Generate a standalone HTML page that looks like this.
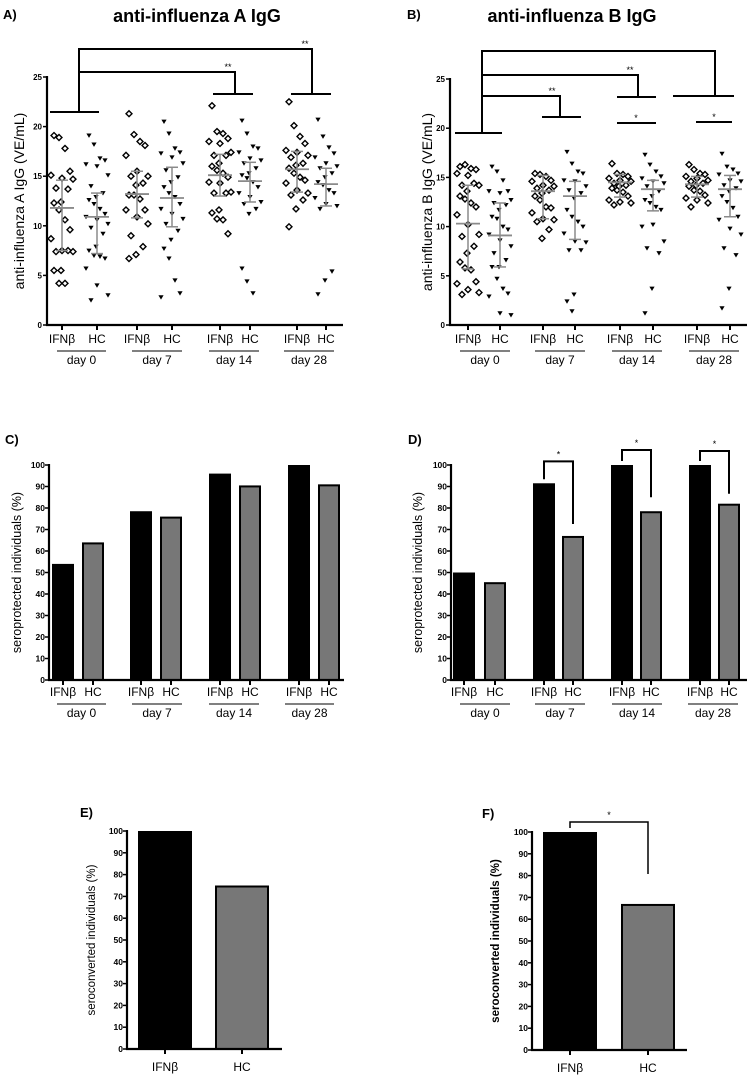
<!DOCTYPE html>
<html><head><meta charset="utf-8"><style>
body{margin:0;background:#fff;}
svg{display:block;font-family:"Liberation Sans",sans-serif;}
</style></head><body>
<svg id="fig" width="751" height="1078" viewBox="0 0 751 1078"></svg>
<script>
// ---------- Data ----------
const scatterGroups = ["IFNβ","HC"];
const days = ["day 0","day 7","day 14","day 28"];
const yTicksScatter = [0,5,10,15,20,25];
const yTicksPct = [0,10,20,30,40,50,60,70,80,90,100];

// Panel A values (VE/mL)
const A_d0_ifn = [19.1,18.9,17.8,15.5,15.1,14.8,14.7,13.8,13.7,12.4,12.3,11.6,10.6,9.6,8.7,7.5,7.4,7.4,7.5,5.5,5.5,4.2,4.2];
const A_d0_hc  = [19.1,18.2,16.8,16.6,16.2,16.0,15.1,14.0,13.3,12.9,12.6,12.2,11.7,11.2,10.9,10.6,10.2,9.8,9.2,7.9,7.5,7.0,6.9,6.7,5.7,4.0,3.0,2.5];
const A_d7_ifn = [21.3,19.2,18.5,18.1,17.1,15.5,15.0,15.0,14.3,14.1,13.1,13.1,12.7,11.6,11.6,10.9,10.2,9.0,7.9,7.1,6.7];
const A_d7_hc  = [20.5,19.3,17.8,17.4,17.3,16.9,16.3,15.6,14.9,14.4,13.9,13.3,12.9,12.2,11.7,11.2,10.7,10.2,9.5,8.6,7.7,6.7,4.5,3.2,2.8];
const A_d14_ifn= [22.1,19.5,19.3,18.8,18.5,18.3,17.4,17.1,17.1,16.3,16.0,15.6,15.3,14.9,14.4,14.3,13.4,13.3,13.3,11.6,11.3,10.7,10.6,9.2];
const A_d14_hc = [20.6,19.3,18.0,17.8,17.4,16.8,16.6,16.3,15.8,15.3,15.1,14.8,14.4,13.9,13.3,12.9,12.4,12.2,11.7,11.2,5.7,4.4,3.2];
const A_d28_ifn= [22.5,20.1,19.0,18.3,17.6,17.4,17.1,16.9,16.3,16.1,15.8,15.3,14.9,14.6,14.3,13.6,13.3,13.1,12.6,11.7,9.9];
const A_d28_hc = [20.7,19.0,17.9,17.3,16.9,16.3,16.0,15.8,15.3,14.9,14.4,14.1,13.6,13.3,12.8,12.2,12.0,11.7,5.4,4.5,3.1];
const A_mean = [11.8,10.9,13.2,12.8,15.1,14.5,15.7,14.2];
const A_lo   = [7.5,7.2,10.8,9.9,13.0,12.4,13.4,12.0];
const A_hi   = [14.6,13.3,15.5,15.9,17.2,16.4,17.5,15.8];

// Panel B values (VE/mL)
const B_d0_ifn = [16.1,16.3,15.9,15.8,15.4,15.2,14.2,14.2,14.4,13.6,13.1,12.8,12.4,12.0,11.2,10.2,9.2,9.0,8.0,7.3,6.4,5.8,5.6,4.4,4.2,3.6,3.3,3.1];
const B_d0_hc  = [16.1,15.6,14.7,13.6,13.6,13.4,12.7,12.4,12.2,11.7,11.0,10.8,10.0,9.7,9.2,8.6,8.0,7.3,6.6,5.9,5.9,4.7,3.7,3.2,2.9,1.2,1.0];
const B_d7_ifn = [15.4,15.3,15.1,14.7,14.6,14.2,14.1,13.9,13.7,13.4,13.1,12.7,12.0,11.9,11.4,10.8,10.7,10.5,9.7,8.8];
const B_d7_hc  = [17.6,16.4,15.6,15.4,14.7,14.6,14.1,13.7,13.4,12.9,11.7,11.0,10.5,10.0,9.3,8.5,8.4,7.6,7.6,3.1,2.4,1.4];
const B_d14_ifn= [16.4,15.4,15.3,15.1,14.9,14.7,14.6,14.4,14.2,14.1,13.9,13.7,13.5,13.1,12.7,12.5,12.4,12.2];
const B_d14_hc = [17.3,16.3,15.6,15.1,14.9,14.6,14.4,14.1,13.6,13.1,12.7,12.4,12.0,11.7,10.0,10.2,8.5,7.8,7.3,3.7,1.2];
const B_d28_ifn= [16.3,15.8,15.4,15.3,15.1,14.9,14.7,14.6,14.4,14.2,14.1,13.7,13.6,13.2,12.9,12.7,12.4,12.0];
const B_d28_hc = [17.4,16.1,15.8,15.4,15.3,14.7,14.6,14.2,13.9,13.6,13.1,12.5,11.9,11.0,10.7,9.8,9.2,7.8,7.1,3.7,1.7];
const B_mean = [10.3,9.1,13.6,13.1,14.5,13.8,14.3,13.8];
const B_lo   = [5.7,5.9,10.8,8.7,13.0,11.6,13.0,11.0];
const B_hi   = [14.2,12.4,15.2,14.6,15.3,14.7,15.1,15.2];

// Bar panels (%)
const C_values = [54,64,78.5,76,96,90.5,100,91];
const D_values = [50,45.5,91.5,67,100,78.5,100,82];
const E_values = [100,75];
const F_values = [100,67];

// ---------- Helpers ----------
const svg = document.getElementById('fig');
const NS = 'http://www.w3.org/2000/svg';
function mk(tag, attrs, parent){
  const e = document.createElementNS(NS, tag);
  for (const k in attrs) e.setAttribute(k, attrs[k]);
  (parent||svg).appendChild(e);
  return e;
}
function txt(s, x, y, size, opts, parent){
  opts = opts||{};
  const t = mk('text', {x:x, y:y, 'font-size':size, 'text-anchor':opts.anchor||'middle', fill:'#000'}, parent);
  if (opts.bold) t.setAttribute('font-weight','bold');
  if (opts.rot) t.setAttribute('transform','rotate(-90 '+x+' '+y+')');
  t.textContent = s;
  return t;
}
function line(x1,y1,x2,y2,w,col,parent){
  return mk('line',{x1:x1,y1:y1,x2:x2,y2:y2,stroke:col||'#000','stroke-width':w||2},parent);
}
const jit = [-8,-3,3,8,-11,0,11,-6,6,-1];

function groupLabels(g, centers, dayLinePairs, yLab, fs, parent){
  centers.forEach((c,i)=>{
    const t = txt(scatterGroups[i%2], c, yLab, fs, {}, g);
    
    
  });
  dayLinePairs.forEach((p,i)=>{
    line(p[0], yLab+8, p[1], yLab+8, 1, '#000', g);
    const t = txt(days[i], (p[0]+p[1])/2, yLab+21, fs, {}, g);
    
    
  });
}

function scatterPanel(P){
  const g = mk('g',{});
  
  
  const y = v => P.y0 - (v/25)*(P.y0-P.y25);
  // axes
  line(P.ax, P.y25-1, P.ax, P.y0+1, 2.2, '#000', g);
  line(P.ax-1, P.y0, P.axEnd, P.y0, 2.2, '#000', g);
  yTicksScatter.forEach(v=>{
    line(P.ax-4, y(v), P.ax, y(v), 1.5, '#000', g);
    const t = txt(String(v), P.ax-5, y(v)+3, 8, {anchor:'end', bold:true}, g);
    
    
  });
  P.centers.forEach(c=> line(c, P.y0, c, P.y0+5, 2, '#000', g));
  // points
  P.series.forEach((arr, gi)=>{
    const cx = P.centers[gi];
    const isIfn = gi%2===0;
    arr.forEach((v,i)=>{
      const px = cx + jit[i%jit.length];
      const py = y(v);
      let m;
      if (isIfn){
        m = mk('rect',{x:px-2.1,y:py-2.1,width:4.2,height:4.2,fill:'#fff',stroke:'#000','stroke-width':1.4,transform:'rotate(45 '+px+' '+py+')'}, g);
      } else {
        m = mk('path',{d:'M'+(px-2.6)+','+(py-2)+' L'+(px+2.6)+','+(py-2)+' L'+px+','+(py+2.4)+' Z',fill:'#000'}, g);
      }
      
      
    });
    // mean & SD
    const mc = '#8a8a8a';
    line(cx, y(P.lo[gi]), cx, y(P.hi[gi]), 1.5, mc, g);
    line(cx-12, y(P.mean[gi]), cx+12, y(P.mean[gi]), 1.8, mc, g);
    line(cx-6, y(P.lo[gi]), cx+6, y(P.lo[gi]), 1.5, mc, g);
    line(cx-6, y(P.hi[gi]), cx+6, y(P.hi[gi]), 1.5, mc, g);
  });
  groupLabels(g, P.centers, P.dayLines, 343, 12);
  const yt = txt(P.ytitle, P.ytx, (P.y0+P.y25)/2, 14, {rot:true}, g);
  
  
  const tt = txt(P.title, P.titleX, 22, 18, {bold:true}, g);
  
  
  const pl = txt(P.label, P.labelX, 19, 13, {bold:true, anchor:'start'}, g);
  
  
  // brackets
  P.brackets.forEach(b=>{
    const pl2 = mk('polyline',{points:b.pts.map(p=>p.join(',')).join(' '),fill:'none',stroke:'#000','stroke-width':2}, g);
    
    
    if (b.star){ const s = txt(b.star, b.sx, b.sy, 9, {}, g);   }
  });
  return g;
}

function barPanel(P){
  const g = mk('g',{});
  
  
  const y = v => P.y0 - (v/100)*(P.y0-P.y100);
  P.values.forEach((v,i)=>{
    const x0 = P.barX[i];
    const r = mk('rect',{x:x0+1, y:y(v)+1, width:P.bw-2, height:P.y0-y(v)-1, fill: i%2===0?'#000':'#777', stroke:'#000','stroke-width':2}, g);
    
    
  });
  line(P.ax, P.y100-1, P.ax, P.y0+1, 2.2, '#000', g);
  line(P.ax-1, P.y0, P.axEnd, P.y0, 2.2, '#000', g);
  yTicksPct.forEach(v=>{
    line(P.ax-4, y(v), P.ax, y(v), 1.5, '#000', g);
    const t = txt(String(v), P.ax-4, y(v)+3, 8.5, {anchor:'end', bold:true}, g);
    
    
  });
  const centers = P.barX.map(x=>x+P.bw/2);
  centers.forEach(c=> line(c, P.y0, c, P.y0+5, 2, '#000', g));
  if (P.dayLines) groupLabels(g, centers, P.dayLines, P.y0+16, 12);
  else centers.forEach((c,i)=>{ const t = txt(scatterGroups[i], c, P.y0+22, 12, {}, g);   });
  const yt = txt(P.ytitle, P.ytx, (P.y0+P.y100)/2, P.yfs, {rot:true, bold:!!P.ybold}, g);
  
  
  const pl = txt(P.label, P.labelX, P.labelY, 13, {bold:true, anchor:'start'}, g);
  
  
  (P.brackets||[]).forEach(b=>{
    const i = b.pair[0], j = b.pair[1];
    const top = y(b.top), ya = y(P.values[i]) - 4, yb = y(P.values[j]) - b.gap;
    const p = mk('polyline',{points:[[centers[i],ya],[centers[i],top],[centers[j],top],[centers[j],yb]].map(q=>q.join(',')).join(' '),fill:'none',stroke:'#000','stroke-width':b.w||2}, g);
    
    
    const s = txt('*', (centers[i]+centers[j])/2, top-4, 9, {}, g);
    
    
  });
}

// ---------- Panels ----------
scatterPanel({name:'panel-a-influenza-a-igg', label:'A)', labelX:3, title:'anti-influenza A IgG', titleX:197,
  ax:47, axEnd:343, y0:325, y25:77, ytx:24, ytitle:'anti-influenza A IgG (VE/mL)',
  centers:[62,97,137,172,220,250,297,326],
  dayLines:[[57,106],[132,182],[209,259],[284,334]],
  series:[A_d0_ifn,A_d0_hc,A_d7_ifn,A_d7_hc,A_d14_ifn,A_d14_hc,A_d28_ifn,A_d28_hc],
  mean:A_mean, lo:A_lo, hi:A_hi,
  brackets:[
    {pts:[[50,112],[99,112]]},
    {pts:[[79,112],[79,49],[312,49],[312,94]], star:'**', sx:305, sy:47},
    {pts:[[79,72],[235,72],[235,94]], star:'**', sx:228, sy:70},
    {pts:[[213,94],[253,94]]},
    {pts:[[291,94],[331,94]]}
  ]});

scatterPanel({name:'panel-b-influenza-b-igg', label:'B)', labelX:407, title:'anti-influenza B IgG', titleX:572,
  ax:450, axEnd:747, y0:325, y25:79, ytx:432, ytitle:'anti-influenza B IgG (VE/mL)',
  centers:[468,500,543,575,620,653,697,730],
  dayLines:[[460,510],[535,585],[612,662],[689,739]],
  series:[B_d0_ifn,B_d0_hc,B_d7_ifn,B_d7_hc,B_d14_ifn,B_d14_hc,B_d28_ifn,B_d28_hc],
  mean:B_mean, lo:B_lo, hi:B_hi,
  brackets:[
    {pts:[[455,133],[502,133]]},
    {pts:[[482,133],[482,51],[715,51],[715,96]]},
    {pts:[[673,96],[734,96]]},
    {pts:[[482,75],[638,75],[638,97]], star:'**', sx:630, sy:73},
    {pts:[[617,97],[656,97]]},
    {pts:[[482,96],[560,96],[560,117]], star:'**', sx:552, sy:94},
    {pts:[[542,117],[581,117]]},
    {pts:[[617,123],[656,123]], star:'*', sx:636, sy:121},
    {pts:[[696,122],[732,122]], star:'*', sx:714, sy:120}
  ]});

barPanel({name:'panel-c-seroprotection-a', label:'C)', labelX:5, labelY:444, values:C_values,
  ax:49, axEnd:344, y0:680, y100:465, bw:22, barX:[52,82,130,160,209,239,288,318],
  dayLines:[[57,106],[132,182],[209,259],[285,334]],
  ytitle:'seroprotected individuals (%)', ytx:21, yfs:12.5});

barPanel({name:'panel-d-seroprotection-b', label:'D)', labelX:408, labelY:444, values:D_values,
  ax:451, axEnd:747, y0:680, y100:465, bw:22, barX:[453,484,533,562,611,640,689,718],
  dayLines:[[460,510],[535,585],[612,662],[688,738]],
  ytitle:'seroprotected individuals (%)', ytx:422, yfs:12.5,
  brackets:[{pair:[2,3], top:101.7, gap:12},{pair:[4,5], top:107, gap:14},{pair:[6,7], top:106.5, gap:10}]});

barPanel({name:'panel-e-seroconversion-a', label:'E)', labelX:80, labelY:817, values:E_values,
  ax:127, axEnd:282, y0:1049, y100:831, bw:54, barX:[138,215],
  ytitle:'seroconverted individuals (%)', ytx:95, yfs:11.5});

barPanel({name:'panel-f-seroconversion-b', label:'F)', labelX:482, labelY:818, values:F_values,
  ax:532, axEnd:687, y0:1050, y100:832, bw:54, barX:[543,621],
  ytitle:'seroconverted individuals (%)', ytx:499, yfs:11.5, ybold:true,
  brackets:[{pair:[0,1], top:104.6, gap:30, w:1.5}]});
</script>
</body></html>
